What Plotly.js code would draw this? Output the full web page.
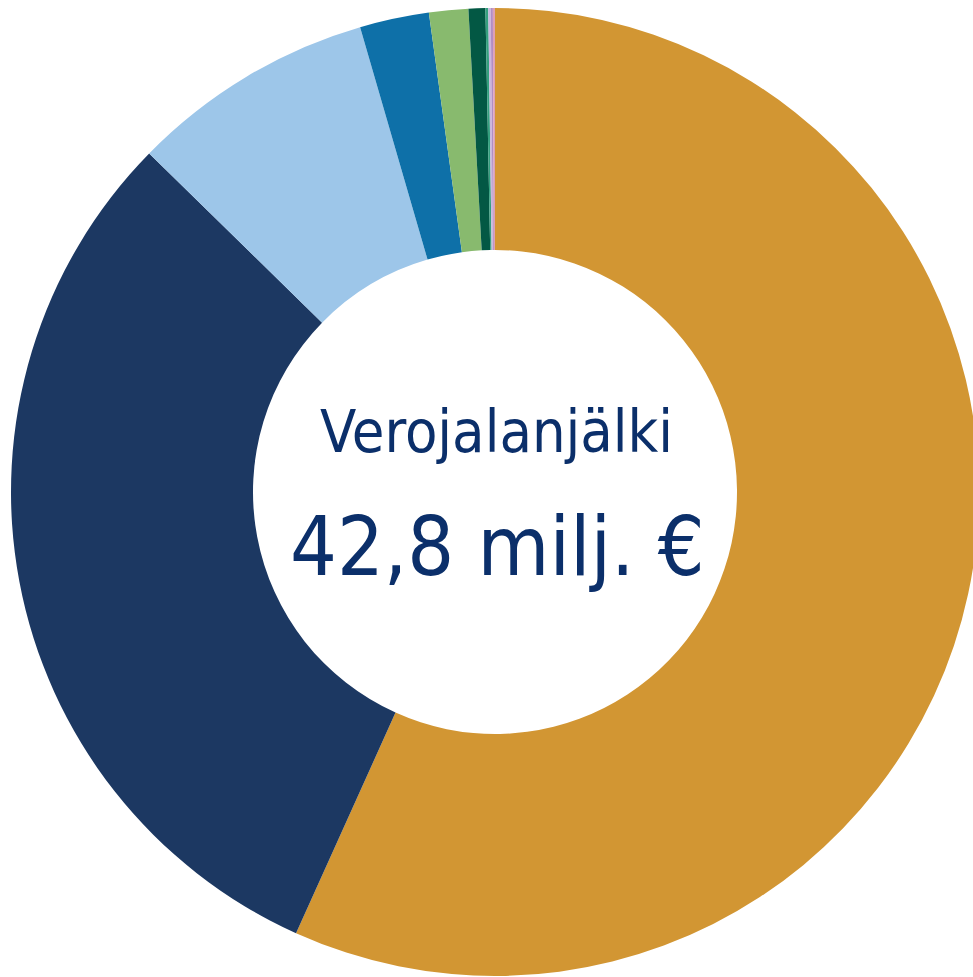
<!DOCTYPE html>
<html>
<head>
<meta charset="utf-8">
<script src="https://cdn.plot.ly/plotly-3.0.1.min.js"></script>
<style>
html,body{margin:0;padding:0;overflow:hidden;background:#fff;}
#chart{width:990px;height:977px;}
</style>
</head>
<body>
<div id="chart"></div>
<script>
const categories = ["A", "B", "C", "D", "E", "F", "G", "H", "I", "J"];
const values = [24.3, 13.1, 3.5, 0.99, 0.56, 0.24, 0.04, 0.035, 0.03, 0.03];
const colors = ["#D29633", "#1C3862", "#9DC6E9", "#0E70A8", "#88BA6E", "#035844", "#35A07F", "#C9B6DE", "#B28DC4", "#DDA0B6"];
const centerLabel = "Verojalanjälki";
const centerValue = "42,8 milj. €";

const trace = {
  type: "pie",
  labels: categories,
  values: values,
  hole: 0.5,
  sort: false,
  direction: "clockwise",
  rotation: 0,
  textinfo: "none",
  hoverinfo: "label+value",
  marker: {colors: colors, line: {width: 0}},
  domain: {x: [0, 1], y: [1 - 976/977, 1 - 8/977]},
  showlegend: false
};

const layout = {
  width: 990,
  height: 977,
  margin: {l: 0, r: 0, t: 0, b: 0},
  paper_bgcolor: "#ffffff",
  showlegend: false,
  annotations: [
    {text: centerLabel, x: 496/990, y: 1 - 431/977, xref: "paper", yref: "paper",
     showarrow: false, font: {family: "DejaVu Sans Condensed, sans-serif", size: 59, color: "#0B2F6A"}},
    {text: centerValue, x: 497/990, y: 1 - 546/977, xref: "paper", yref: "paper",
     showarrow: false, font: {family: "DejaVu Sans Condensed, sans-serif", size: 82, color: "#0B2F6A"}}
  ]
};

Plotly.newPlot("chart", [trace], layout, {displayModeBar: false, staticPlot: true});
</script>
</body>
</html>
